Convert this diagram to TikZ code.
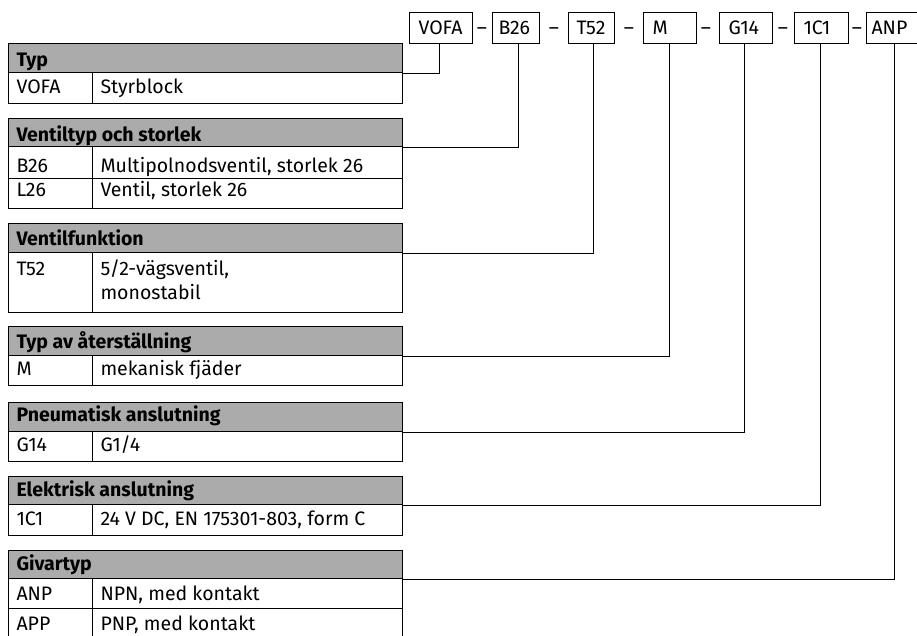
\documentclass[tikz,border=0pt]{standalone}
\usepackage{fontspec}
\setmainfont{Fira Sans}
\usetikzlibrary{calc}
\definecolor{hdrgray}{HTML}{ABABAB}
\begin{document}
\begin{tikzpicture}[x=1pt,y=-1pt,line width=1pt,
  font=\fontsize{19.5}{22}\selectfont,
  codebox/.style={draw,anchor=north west,minimum height=31pt,inner ysep=0pt,inner xsep=8pt,align=left,text depth=0pt},
  hdr/.style={draw,fill=hdrgray,anchor=north west,minimum width=394pt,minimum height=#1,inner sep=0pt},
  cell/.style={draw,anchor=north west,inner sep=0pt},
  txt/.style={anchor=base west,inner sep=0pt},
  htxt/.style={anchor=base west,inner sep=0pt,font=\fontsize{19.5}{22}\selectfont\bfseries},
  dashtxt/.style={anchor=base,inner sep=0pt},
  conn/.style={line width=1pt}]
\useasboundingbox (0,0) rectangle (917,635);
\clip (0,0) rectangle (917,635);
\fill[white] (0,0) rectangle (917,635);
% top code boxes
\node[codebox,text width=47pt] (vofa) at (409,12) {};
\node[codebox,text width=31pt] (b26) at (492,12) {};
\node[codebox,text width=30pt] (t52) at (568,12) {};
\node[codebox,text width=37pt] (m) at (643,12) {};
\node[codebox,text width=37pt] (g14) at (719,12) {};
\node[codebox,text width=38pt] (c1) at (794,12) {};
\node[codebox,text width=70pt] (anp) at (866,12) {};
\node[txt] (tvofa) at (418,34.3) {VOFA};
\node[txt] (tb26) at (498,34.3) {B26};
\node[txt] (tt52) at (576,34.3) {T52};
\node[txt] (tm) at (652,34.3) {M};
\node[txt] (tg14) at (728,34.3) {G14};
\node[txt] (tc1) at (803,34.3) {1C1};
\node[txt] (tanp) at (871,34.3) {ANP};
\node[dashtxt] (d1) at (482,34.3) {–};
\node[dashtxt] (d2) at (554,34.3) {–};
\node[dashtxt] (d3) at (629,34.3) {–};
\node[dashtxt] (d4) at (706,34.3) {–};
\node[dashtxt] (d5) at (783,34.3) {–};
\node[dashtxt] (d6) at (857,34.3) {–};
% Typ
\node[hdr=29pt] (h1) at (8,43) {};
\node[cell,minimum width=84pt,minimum height=31pt] (a1) at (8,72) {};
\node[cell,minimum width=310pt,minimum height=31pt] (b1) at (92,72) {};
\node[htxt] at (16,66.7) {Typ};
\node[txt] at (16,93.3) {VOFA};
\node[txt] at (100,93.3) {Styrblock};
% Ventiltyp
\node[hdr=28pt] (h2) at (8,118) {};
\node[cell,minimum width=84pt,minimum height=32pt] (a2) at (8,146) {};
\node[cell,minimum width=310pt,minimum height=32pt] (b2) at (92,146) {};
\node[cell,minimum width=84pt,minimum height=30pt] (a3) at (8,178) {};
\node[cell,minimum width=310pt,minimum height=30pt] (b3) at (92,178) {};
\node[htxt] at (16,141) {Ventiltyp och storlek};
\node[txt] at (16,172.7) {B26};
\node[txt] at (100,172.7) {Multipolnodsventil, storlek 26};
\node[txt] at (16,196.7) {L26};
\node[txt] at (100,196.7) {Ventil, storlek 26};
% Ventilfunktion
\node[hdr=29pt] (h3) at (8,223) {};
\node[cell,minimum width=84pt,minimum height=60pt] (a4) at (8,252) {};
\node[cell,minimum width=310pt,minimum height=60pt] (b4) at (92,252) {};
\node[htxt] at (16,245) {Ventilfunktion};
\node[txt] at (16,275) {T52};
\node[txt] at (100,275) {5/2-vägsventil,};
\node[txt] at (100,299) {monostabil};
% Typ av aterstallning
\node[hdr=29pt] (h4) at (8,326) {};
\node[cell,minimum width=84pt,minimum height=30pt] (a5) at (8,355) {};
\node[cell,minimum width=310pt,minimum height=30pt] (b5) at (92,355) {};
\node[htxt] at (16,348.3) {Typ av återställning};
\node[txt] at (16,375) {M};
\node[txt] at (100,375) {mekanisk fjäder};
% Pneumatisk
\node[hdr=29pt] (h5) at (8,402) {};
\node[cell,minimum width=84pt,minimum height=30pt] (a6) at (8,431) {};
\node[cell,minimum width=310pt,minimum height=30pt] (b6) at (92,431) {};
\node[htxt] at (16,421.7) {Pneumatisk anslutning};
\node[txt] at (16,451.7) {G14};
\node[txt] at (100,451.7) {G1/4};
% Elektrisk
\node[hdr=28pt] (h6) at (8,476) {};
\node[cell,minimum width=84pt,minimum height=31pt] (a7) at (8,504) {};
\node[cell,minimum width=310pt,minimum height=31pt] (b7) at (92,504) {};
\node[htxt] at (16,496.7) {Elektrisk anslutning};
\node[txt] at (16,525) {1C1};
\node[txt] at (100,525) {24 V DC, EN 175301-803, form C};
% Givartyp
\node[hdr=28pt] (h7) at (8,550) {};
\node[cell,minimum width=84pt,minimum height=30pt] (a8) at (8,578) {};
\node[cell,minimum width=310pt,minimum height=30pt] (b8) at (92,578) {};
\node[cell,minimum width=84pt,minimum height=40pt] (a9) at (8,608) {};
\node[cell,minimum width=310pt,minimum height=40pt] (b9) at (92,608) {};
\node[htxt] at (16,570.7) {Givartyp};
\node[txt] at (16,600) {ANP};
\node[txt] at (100,600) {NPN, med kontakt};
\node[txt] at (16,630) {APP};
\node[txt] at (100,630) {PNP, med kontakt};
% connectors
\draw[conn] (h1.south east) -| ($(vofa.south west)+(30,0)$);
\draw[conn] (h2.south east) -| ($(b26.south west)+(26,0)$);
\draw[conn] (h3.south east) -| ($(t52.south west)+(25,0)$);
\draw[conn] (h4.south east) -| ($(m.south west)+(26,0)$);
\draw[conn] (h5.south east) -| ($(g14.south west)+(25,0)$);
\draw[conn] (h6.south east) -| ($(c1.south west)+(26,0)$);
\draw[conn] (h7.south east) -| ($(anp.south west)+(28,0)$);
\end{tikzpicture}
\end{document}
